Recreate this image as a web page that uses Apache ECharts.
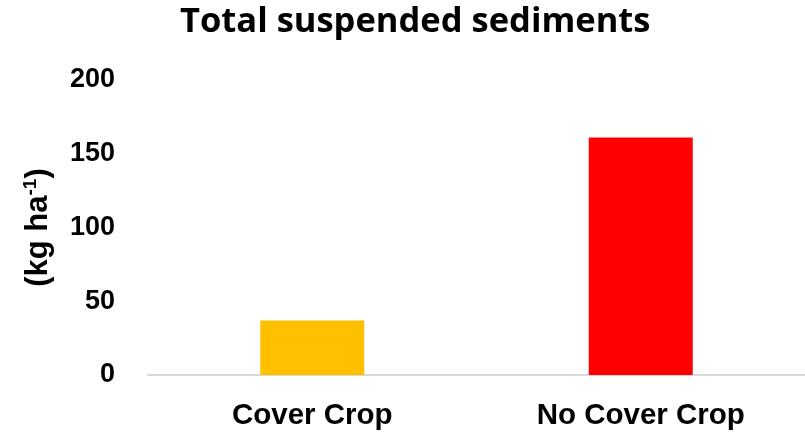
<!DOCTYPE html>
<html><head><meta charset="utf-8">
<script src="https://cdn.jsdelivr.net/npm/echarts@6/dist/echarts.min.js"></script>
<style>html,body{margin:0;padding:0;background:#fff}#c{width:805px;height:435px}</style>
</head><body><div id="c"></div>
<script>
const categories = ['Cover Crop', 'No Cover Crop'];
const values = [37, 161];
const barColors = ['#FFC000', '#FF0000'];
const yTicks = [0, 50, 100, 150, 200];

const chart = echarts.init(document.getElementById('c'));
chart.setOption({
  animation: false,
  title: {
    text: 'Total suspended sediments', left: 175, top: 0,
    textStyle: { fontFamily: 'Open Sans', fontWeight: 'bold', fontSize: 34.5, color: '#000' }
  },
  grid: { left: 148, right: 0, top: 80, bottom: 60 },
  xAxis: {
    type: 'category', data: categories,
    axisLine: { lineStyle: { color: '#d9d9d9', width: 2 } },
    axisTick: { show: false },
    axisLabel: { margin: 26, fontFamily: 'Liberation Sans', fontWeight: 'bold', fontSize: 29.5, color: '#000' }
  },
  yAxis: {
    type: 'value', min: yTicks[0], max: yTicks[yTicks.length - 1], interval: 50,
    splitLine: { show: false }, axisLine: { show: false }, axisTick: { show: false },
    axisLabel: { margin: 33, fontFamily: 'Liberation Sans', fontWeight: 'bold', fontSize: 27, color: '#000' },
    name: '{a|(kg ha}{s|-1}{a|)}', nameLocation: 'middle', nameRotate: 90, nameGap: 93,
    nameTextStyle: {
      rich: {
        a: { fontFamily: 'Liberation Sans', fontWeight: 'bold', fontSize: 31, color: '#000', lineHeight: 34 },
        s: { fontFamily: 'Liberation Sans', fontWeight: 'bold', fontSize: 19, color: '#000', verticalAlign: 'top', lineHeight: 34, padding: [0, 0, 13, 0] }
      }
    }
  },
  series: [{
    type: 'bar', barWidth: 104,
    data: values.map((v, i) => ({ value: v, itemStyle: { color: barColors[i] } }))
  }]
});
</script></body></html>
